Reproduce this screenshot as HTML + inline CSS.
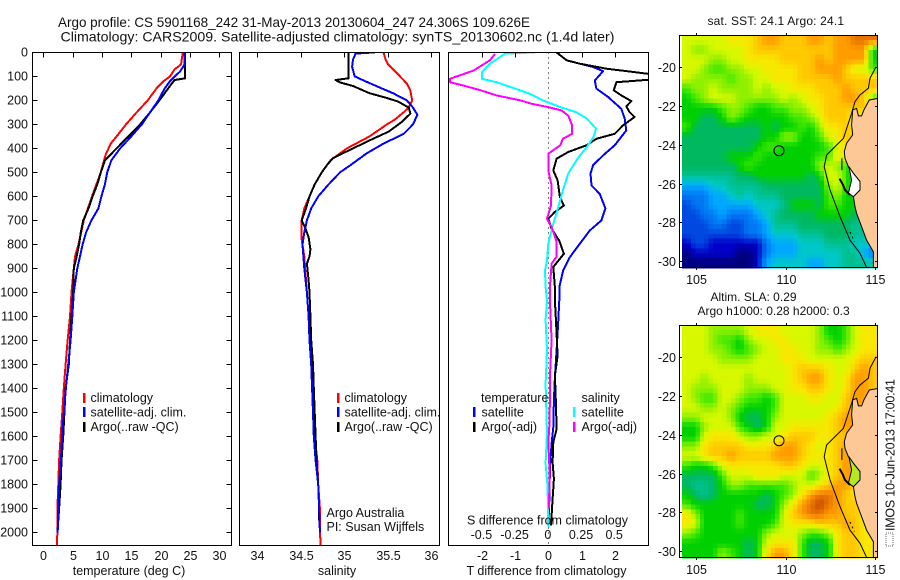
<!DOCTYPE html>
<html>
<head>
<meta charset="utf-8">
<title>Argo profile</title>
<style>
html,body{margin:0;padding:0;background:#fff;}
svg{display:block;}
text{font-family:"Liberation Sans",sans-serif;font-size:12.5px;fill:#111;}
.frame{fill:none;stroke:#000;stroke-width:1;shape-rendering:crispEdges;}
.tick{stroke:#000;stroke-width:1;shape-rendering:crispEdges;}
.prof{fill:none;stroke-width:2;stroke-linejoin:round;shape-rendering:crispEdges;}
</style>
</head>
<body>
<svg id="chart" xmlns="http://www.w3.org/2000/svg" width="900" height="580" viewBox="0 0 900 580">
<defs>
<clipPath id="clip-t"><rect x="32.5" y="52.5" width="199" height="493"/></clipPath>
<clipPath id="clip-s"><rect x="239.5" y="52.5" width="200" height="493"/></clipPath>
<clipPath id="clip-d"><rect x="448.5" y="52.5" width="200" height="493"/></clipPath>
<clipPath id="clip-m1"><rect x="679.5" y="35.5" width="198" height="232"/></clipPath>
<clipPath id="clip-m2"><rect x="679.5" y="325.5" width="198" height="232"/></clipPath>
</defs>
<text x="58" y="27" font-size="14" style="font-size:14px" textLength="472" lengthAdjust="spacingAndGlyphs">Argo profile: CS 5901168_242 31-May-2013 20130604_247 24.306S 109.626E</text>
<text x="60.5" y="41.5" style="font-size:14px" textLength="554" lengthAdjust="spacingAndGlyphs">Climatology: CARS2009. Satellite-adjusted climatology: synTS_20130602.nc (1.4d later)</text>

<g id="p1"></g>
<g id="p2"></g>
<g id="p3"></g>
<g id="m1"></g>
<g id="m2"></g>

<text x="129" y="575" text-anchor="middle">temperature (deg C)</text>
<text x="337" y="575" text-anchor="middle">salinity</text>
<text x="546.5" y="575" text-anchor="middle">T difference from climatology</text>
<text x="547.5" y="524.5" text-anchor="middle">S difference from climatology</text>

<g>
<rect x="83" y="393" width="2.5" height="10" fill="#f00"/>
<rect x="83" y="407" width="2.5" height="10" fill="#00f"/>
<rect x="83" y="422" width="2.5" height="10" fill="#000"/>
<text x="90.5" y="402">climatology</text>
<text x="90.5" y="416.5">satellite-adj. clim.</text>
<text x="90.5" y="431">Argo(..raw -QC)</text>
</g>
<g>
<rect x="337" y="393" width="2.5" height="10" fill="#f00"/>
<rect x="337" y="407" width="2.5" height="10" fill="#00f"/>
<rect x="337" y="422" width="2.5" height="10" fill="#000"/>
<text x="344.5" y="402">climatology</text>
<text x="344.5" y="416.5">satellite-adj. clim.</text>
<text x="344.5" y="431">Argo(..raw -QC)</text>
<text x="326.5" y="517">Argo Australia</text>
<text x="326.5" y="531">PI: Susan Wijffels</text>
</g>
<g>
<text x="481" y="402">temperature</text>
<rect x="473" y="407" width="2.5" height="10" fill="#00f"/>
<rect x="473" y="422" width="2.5" height="10" fill="#000"/>
<text x="481.5" y="416.5">satellite</text>
<text x="481.5" y="431">Argo(-adj)</text>
<text x="581.5" y="402">salinity</text>
<rect x="573" y="407" width="2.5" height="10" fill="#0ff"/>
<rect x="573" y="422" width="2.5" height="10" fill="#f0f"/>
<text x="581.5" y="416.5">satellite</text>
<text x="581.5" y="431">Argo(-adj)</text>
</g>

<text x="707.5" y="25" textLength="136.5" lengthAdjust="spacing" style="font-size:12px">sat. SST: 24.1  Argo: 24.1</text>
<text x="710.5" y="301" style="font-size:12px">Altim. SLA: 0.29</text>
<text x="697.5" y="315" style="font-size:12px">Argo h1000: 0.28 h2000: 0.3</text>
<rect x="886" y="533" width="7" height="13" fill="#fff" stroke="#666" stroke-width="1" stroke-dasharray="1 1"/>
<text transform="translate(894.5,531) rotate(-90)" textLength="152" lengthAdjust="spacing">IMOS 10-Jun-2013 17:00:41</text>
</svg>

<script>
/* ---------- profile data ---------- */
const depthTicks = [0,100,200,300,400,500,600,700,800,900,1000,1100,1200,1300,1400,1500,1600,1700,1800,1900,2000];
const tempTicks = [0,5,10,15,20,25,30];
const salTicks = [34,34.5,35,35.5,36];
const salTickLabels = ['34','34.5','35','35.5','36'];
const tDiffTicks = [-2,-1,0,1,2];
const sDiffTicks = [-0.5,-0.25,0,0.25,0.5];
const sDiffTickLabels = ['-0.5','-0.25','0','0.25','0.5'];

const tempClimDepth = [0,30,50,70,100,120,150,200,250,300,350,380,428,500,600,700,800,850,900,1000,1100,1200,1300,1400,1500,1600,1700,1800,1900,2000,2056];
const tempClim = [23.8,23.6,23.5,22.4,21.6,20.5,19.3,17.8,15.9,14.1,12.5,11.5,10.6,9.8,8.3,6.9,6,5.4,5.2,4.8,4.55,4.15,3.8,3.5,3.24,2.95,2.7,2.55,2.4,2.4,2.3];
const tempSatDepth = [0,50,80,100,120,150,200,250,300,350,400,450,500,550,600,650,700,750,800,850,900,1000,1100,1200,1300,1400,1500,1600,1700,1800,1900,2000];
const tempSat = [24.1,24.1,23.3,22.4,21.6,20.7,19.6,18.2,16.8,15,13.1,11.6,10.9,10.5,9.9,9.4,8.2,7.3,6.7,6.25,5.8,5.2,4.95,4.65,4.25,3.85,3.5,3.2,3,2.7,2.55,2.45];
const tempArgoDepth = [0,108,115,130,150,200,250,300,350,400,450,500,550,600,650,700,750,800,850,900,1000,1100,1200,1300,1400,1500,1600,1700,1800,1900,2000];
const tempArgo = [24.2,24.2,22.4,21.9,21.3,19.8,18.2,16.5,14.5,12.5,10.5,9.8,9.2,8.4,7.7,6.8,6.4,6.1,5.7,5.2,5.1,4.8,4.55,4.35,3.8,3.6,3.4,3.1,2.95,2.7,2.4];

const salClimDepth = [0,30,50,70,100,130,160,200,230,250,280,300,350,400,450,500,550,600,650,700,750,780,850,900,1000,1100,1200,1300,1400,1500,1600,1700,1800,1900,2000,2056];
const salClim = [35.45,35.475,35.505,35.56,35.64,35.72,35.76,35.78,35.74,35.68,35.58,35.49,35.29,35.03,34.84,34.74,34.66,34.6,34.54,34.51,34.51,34.51,34.54,34.55,34.57,34.59,34.6,34.62,34.64,34.65,34.66,34.69,34.7,34.72,34.72,34.73];
const salSatDepth = [0,5,30,60,100,120,150,170,200,230,260,300,340,380,420,470,500,550,600,650,700,750,800,850,900,1000,1100,1200,1300,1400,1500,1600,1700,1800,1900,2000];
const salSat = [35.35,35.13,35.1,35.09,35.12,35.24,35.43,35.56,35.72,35.79,35.84,35.79,35.68,35.45,35.26,35.07,34.95,34.82,34.7,34.62,34.57,34.54,34.52,34.53,34.54,34.57,34.59,34.6,34.62,34.63,34.64,34.65,34.67,34.7,34.71,34.72];
const salArgoDepth = [0,108,115,125,140,170,190,205,230,255,290,330,360,400,440,470,500,550,600,650,700,730,770,820,850,880,950,1000,1100,1200,1300,1400,1500,1600,1700,1800,1900,1950];
const salArgo = [35.05,35.05,34.9,34.95,35.1,35.29,35.49,35.62,35.74,35.76,35.66,35.51,35.33,35.1,34.87,34.8,34.74,34.66,34.6,34.56,34.51,34.55,34.59,34.61,34.6,34.57,34.59,34.6,34.61,34.62,34.64,34.65,34.66,34.67,34.68,34.7,34.71,34.71];

const dTempSatDepth = [0,33,47,61,78,117,151,186,235,276,325,387,429,470,505,554,590,650,700,742,797,853,908,978,1033,1116,1241,1353,1450,1561,1630,1727,1866,1977];
const dTempSat = [0.25,0.55,0.95,1.35,1.65,1.4,1.45,1.8,2.2,2.3,2.35,2,1.65,1.35,1.27,1.3,1.55,1.72,1.6,1.25,0.95,0.65,0.45,0.33,0.33,0.3,0.25,0.2,0.17,0.15,0.1,0.05,0.03,0];
const dTempArgoDepth = [0,33,47,68,78,89,100,114,124,158,179,203,225,249,269,304,339,360,387,415,443,492,533,603,638,665,693,735,785,839,894,978,1033,1172,1264,1347,1458,1569,1625,1708,1777,1861,1972];
const dTempArgo = [0.25,0.55,0.95,1.75,2.35,3,3.5,3,2.05,1.97,2.2,2.5,2.35,2.45,2.6,2.25,2,1.45,1.15,0.6,0.25,0.15,0.28,0.35,0.47,0.2,0,0.1,0.33,0.47,0.15,0.2,0.2,0.25,0.28,0.2,0.23,0.25,0.15,0.13,0.17,0.13,0.08];
const dSalSatDepth = [0,5,47,82,110,124,151,172,200,228,249,276,318,353,394,443,505,575,644,728,797,867,908,978,1033,1116,1241,1380,1588,1713,1810,1977];
const dSalSat = [-0.1,-0.325,-0.44,-0.5,-0.5,-0.39,-0.25,-0.14,-0.04,0.09,0.21,0.29,0.36,0.34,0.29,0.22,0.15,0.11,0.075,0.03,0,-0.01,-0.025,-0.02,-0.01,-0.02,-0.01,-0.02,-0.01,-0.02,-0.005,0];
const dSalArgoDepth = [6,33,75,110,124,138,158,179,200,214,228,242,263,304,339,360,387,422,492,554,638,693,728,785,853,880,978,1033,1200,1350,1450,1550,1630,1720,1800,1900];
const dSalArgo = [-0.4,-0.44,-0.56,-0.74,-0.74,-0.64,-0.51,-0.39,-0.21,-0.125,0,0.1,0.15,0.18,0.18,0.11,0.09,0,0,0.025,0.02,-0.01,0.025,0.06,0.06,0.025,0.012,0.012,0.025,0.012,0.012,0.008,0,0.008,0.008,0.005];

/* ---------- map data (colour level per half-degree cell) ---------- */
const lonTicks = [105,110,115];
const latTicks = [-20,-22,-24,-26,-28,-30];
const sstGrid = [
[11,11,11,11,11,12,12,12,13,14,14,13,13,13,14,14,13,14,14,15,15,15],
[11,10,10,11,11,11,11,12,13,13,13,13,13,13,13,13,13,14,14,14,14,8],
[11,11,11,10,10,11,11,12,12,12,12,13,13,13,13,14,13,14,14,14,14,8],
[11,11,10,9,9,10,10,11,11,12,12,12,12,13,13,14,14,14,13,11,11,9],
[11,10,10,10,10,9,10,10,11,11,12,12,12,13,13,13,13,14,13,13,13,13],
[9,10,10,11,10,10,10,10,11,10,11,11,12,12,12,13,13,13,14,13,13,13],
[8,9,10,11,11,11,10,10,10,10,10,11,10,11,12,12,13,13,14,14,13,9],
[8,8,8,8,9,10,10,9,8,8,9,9,10,10,11,12,13,13,13,13,13,13],
[8,8,7,7,8,10,9,8,8,8,8,8,9,9,10,11,13,13,13,11,11,11],
[9,7,7,7,7,7,7,7,7,8,7,8,8,9,8,10,12,12,13,12,12,12],
[7,7,7,7,7,7,7,7,7,8,8,10,10,8,8,9,11,12,13,13,13,13],
[7,7,7,7,7,7,7,7,8,9,9,8,8,8,8,8,9,11,12,13,13,13],
[7,7,7,7,7,8,8,8,9,8,8,8,8,8,8,9,9,12,11,12,12,12],
[7,7,7,7,7,7,8,9,8,8,8,8,8,8,8,10,11,10,9,8,8,8],
[6,6,6,6,6,6,7,7,8,8,8,8,8,8,7,8,11,11,9,6,6,6],
[4,4,4,5,5,6,6,6,6,7,7,7,7,7,7,7,10,11,9,7,7,7],
[3,3,3,4,4,5,6,5,6,6,6,7,7,7,7,7,9,10,8,8,8,8],
[2,3,3,4,4,4,4,4,5,5,5,6,8,8,8,7,9,9,8,8,8,8],
[2,2,3,3,4,3,3,3,4,5,6,7,7,7,7,8,8,8,8,7,7,7],
[2,2,2,3,3,2,2,3,3,4,6,6,6,7,7,7,7,7,7,6,6,6],
[2,2,2,2,2,2,2,3,3,4,5,5,5,6,6,6,7,7,7,6,6,6],
[1,2,2,1,1,1,1,1,1,3,4,4,4,5,5,5,6,6,6,5,5,5],
[0,1,1,1,1,1,0,0,1,3,4,4,4,5,5,5,5,5,6,6,4,3],
[0,0,0,0,0,0,0,0,1,4,5,5,5,5,4,4,5,5,6,6,6,5]
];
const slaGrid = [
[11,11,11,10,10,10,10,11,12,12,12,11,11,11,11,10,8,8,9,11,12,12],
[11,11,11,10,9,9,8,10,11,11,12,12,11,11,11,10,9,8,9,11,12,12],
[11,11,11,10,10,9,8,9,10,11,11,12,12,11,11,10,10,9,10,11,12,12],
[11,11,11,11,10,10,10,10,11,11,11,12,12,12,11,11,11,11,11,12,13,13],
[11,11,11,11,11,11,11,11,11,11,11,11,12,13,13,13,12,11,11,13,14,13],
[11,11,10,11,11,11,11,10,11,11,11,11,12,13,14,14,12,11,12,14,14,13],
[11,10,10,10,11,11,11,10,10,10,11,11,12,12,13,13,12,11,12,14,14,13],
[11,10,9,9,11,11,10,9,9,8,9,11,11,11,12,12,11,11,13,14,14,13],
[11,11,10,10,11,10,9,8,8,8,9,11,11,11,11,11,11,12,13,14,13,13],
[10,10,11,11,11,10,8,7,7,8,10,11,11,11,11,11,12,13,14,14,13,13],
[8,8,10,11,11,11,9,8,7,8,11,11,12,12,12,12,12,13,14,14,13,13],
[8,8,11,12,12,12,11,10,10,11,11,12,13,13,13,12,12,13,13,13,13,13],
[10,10,12,13,13,13,13,12,12,12,13,14,14,13,12,11,12,13,14,13,13,13],
[11,11,12,13,13,14,13,13,13,13,14,14,14,13,12,12,12,13,14,13,13,13],
[9,8,8,9,11,12,12,12,12,12,12,13,13,12,11,11,12,13,14,14,13,13],
[7,7,7,7,9,11,11,11,12,12,12,11,11,11,9,10,12,13,14,14,13,13],
[7,6,6,7,8,10,10,9,9,9,9,9,10,11,11,12,13,14,14,13,13,13],
[8,7,6,7,8,8,8,8,8,7,8,9,10,12,14,15,15,14,13,12,12,12],
[9,8,8,8,8,8,8,8,7,7,8,10,12,14,15,16,15,14,13,13,12,12],
[12,10,8,8,8,8,9,8,8,8,8,11,13,14,15,15,14,14,13,13,12,12],
[12,11,8,8,8,8,9,8,8,8,9,11,12,12,12,13,13,13,14,13,12,12],
[10,9,8,8,8,8,8,8,8,10,11,11,11,10,9,9,10,12,13,13,12,12],
[8,8,8,8,8,8,8,7,8,11,12,12,12,9,7,7,8,12,13,13,12,12],
[8,8,8,8,10,9,8,7,8,12,14,14,12,9,7,7,8,12,13,13,12,12]
];
const landLon = [115.2,114.68,114.38,114.25,114.07,113.97,113.75,113.69,113.75,113.41,113.28,113.32,113.51,113.79,114.16,114.16,113.79,113.88,113.97,114.25,114.53,114.91,114.91,115.2];
const landLat = [-21.6,-21.69,-22.2,-22.51,-22.51,-22.12,-22.2,-22.98,-23.49,-23.92,-24.35,-24.7,-25.13,-25.47,-25.9,-26.33,-26.68,-27.19,-27.54,-28.23,-28.92,-29.52,-30.4,-30.4];
const shelfLon = [115.06,114.72,114.63,114.16,113.88,113.69,113.23,112.29,112.16,112.48,113.04,113.6,114.16,114.53];
const shelfLat = [-19.97,-20.57,-21.08,-21.43,-21.77,-22.38,-23.67,-24.53,-25.13,-26.33,-27.71,-28.92,-29.6,-30.33];
const bayLon = [113.54,113.79,114.16,114.16,113.79,113.51,113.69];
const bayLat = [-25.13,-25.47,-25.9,-26.33,-26.68,-26.5,-25.82];
const islandLon = [113.02,113.2,113.32,113.6];
const islandLat = [-25.75,-26.05,-26.33,-26.59];
const reefNorthLon = [113.15,113.15];
const reefNorthLat = [-24.7,-25.3];
const reefSouthLon = [113.6,113.75,113.85];
const reefSouthLat = [-28.5,-28.8,-29];
const argoLon = 109.626;
const argoLat = -24.306;
const levelColors = ['#00007c','#0000c8','#0048e0','#0078f4','#00a8ff','#00c8c8','#00c090','#00b860','#00d000','#40e800','#90f000','#d8f800','#f8e800','#ffc800','#ff9c00','#e87400','#c84400'];

/* ---------- helpers ---------- */
const NS = 'http://www.w3.org/2000/svg';
function mk(parent, tag, name) {
  const el = document.createElementNS(NS, tag);
  
  
  parent.appendChild(el);
  return el;
}
function line(parent, name, x1, y1, x2, y2) {
  const el = mk(parent, 'line', name);
  el.setAttribute('x1', x1);
  el.setAttribute('y1', y1);
  el.setAttribute('x2', x2);
  el.setAttribute('y2', y2);
  el.setAttribute('class', 'tick');
  return el;
}
function label(parent, name, x, y, str, anchor) {
  const el = mk(parent, 'text', name);
  el.setAttribute('x', x);
  el.setAttribute('y', y);
  el.setAttribute('text-anchor', anchor || 'middle');
  el.textContent = str;
  return el;
}
function frame(parent, name, x, y, w, h) {
  const el = mk(parent, 'rect', name);
  el.setAttribute('x', x);
  el.setAttribute('y', y);
  el.setAttribute('width', w);
  el.setAttribute('height', h);
  el.setAttribute('class', 'frame');
  return el;
}
function profile(parent, name, depths, vals, xf, color, clip) {
  const el = mk(parent, 'polyline', name);
  el.setAttribute('points', depths.map(function (d, i) { return xf(vals[i]).toFixed(1) + ',' + yDepth(d).toFixed(1); }).join(' '));
  el.setAttribute('class', 'prof');
  el.setAttribute('stroke', color);
  el.setAttribute('clip-path', 'url(#' + clip + ')');
  return el;
}
function yDepth(d) { return 52.4 + 0.24 * d; }
function xTemp(t) { return 43.3 + 5.865 * t; }
function xSal(s) { return 257.3 + 87 * (s - 34); }
function xDT(t) { return 548.3 + 33.2 * t; }
function xDS(s) { return 548.3 + 132.8 * s; }

/* ---------- temperature panel ---------- */
const p1 = document.getElementById('p1');
profile(p1, 'temperature-climatology-line', tempClimDepth, tempClim, xTemp, '#f00', 'clip-t');
profile(p1, 'temperature-argo-line', tempArgoDepth, tempArgo, xTemp, '#000', 'clip-t');
profile(p1, 'temperature-satellite-line', tempSatDepth, tempSat, xTemp, '#00f', 'clip-t');
frame(p1, 'temperature-plot-frame', 32.5, 52.5, 199, 493);
depthTicks.forEach(function (d) {
  const y = Math.round(yDepth(d)) + 0.5;
  line(p1, 'depth-tick-left', 32.5, y, 37.5, y);
  line(p1, 'depth-tick-right', 226.5, y, 231.5, y);
  label(p1, 'depth-tick-label', 28, y + 4, String(d), 'end');
});
tempTicks.forEach(function (t) {
  const x = Math.round(xTemp(t)) + 0.5;
  line(p1, 'temperature-tick', x, 52.5, x, 57.5);
  label(p1, 'temperature-tick-label', x, 560, String(t));
});

/* ---------- salinity panel ---------- */
const p2 = document.getElementById('p2');
profile(p2, 'salinity-climatology-line', salClimDepth, salClim, xSal, '#f00', 'clip-s');
profile(p2, 'salinity-argo-line', salArgoDepth, salArgo, xSal, '#000', 'clip-s');
profile(p2, 'salinity-satellite-line', salSatDepth, salSat, xSal, '#00f', 'clip-s');
frame(p2, 'salinity-plot-frame', 239.5, 52.5, 200, 493);
salTicks.forEach(function (s, i) {
  const x = Math.round(xSal(s)) + 0.5;
  line(p2, 'salinity-tick', x, 52.5, x, 57.5);
  label(p2, 'salinity-tick-label', x, 560, salTickLabels[i]);
});

/* ---------- difference panel ---------- */
const p3 = document.getElementById('p3');
const zeroLine = line(p3, 'zero-difference-line', 548.5, 52.5, 548.5, 545.5);
zeroLine.setAttribute('stroke-dasharray', '1 4');
profile(p3, 'satellite-t-difference-line', dTempSatDepth, dTempSat, xDT, '#00f', 'clip-d');
profile(p3, 'argo-t-difference-line', dTempArgoDepth, dTempArgo, xDT, '#000', 'clip-d');
profile(p3, 'satellite-s-difference-line', dSalSatDepth, dSalSat, xDS, '#0ff', 'clip-d');
profile(p3, 'argo-s-difference-line', dSalArgoDepth, dSalArgo, xDS, '#f0f', 'clip-d');
frame(p3, 'difference-plot-frame', 448.5, 52.5, 200, 493);
tDiffTicks.forEach(function (t) {
  const x = Math.round(xDT(t)) + 0.5;
  if (t !== 0) line(p3, 't-difference-tick', x, 52.5, x, 57.5);
  label(p3, 't-difference-tick-label', x, 560, String(t));
});
sDiffTicks.forEach(function (s, i) {
  label(p3, 's-difference-tick-label', xDS(s) - 0.5, 539, sDiffTickLabels[i]);
});

/* ---------- maps ---------- */
function levelColor(v) {
  const top = levelColors.length - 1;
  const c = Math.max(0, Math.min(top, v));
  const i = Math.min(top - 1, Math.floor(c));
  const f = c - i;
  const a = levelColors[i];
  const b = levelColors[i + 1];
  let out = '#';
  [1, 3, 5].forEach(function (k) {
    const ca = parseInt(a.substr(k, 2), 16);
    const cb = parseInt(b.substr(k, 2), 16);
    const m = Math.round(ca + (cb - ca) * f);
    out += (m < 16 ? '0' : '') + m.toString(16);
  });
  return out;
}
function drawMap(g, grid, top, prefix, subdiv, bayFill, clip) {
  const bottom = top + 232;
  const xLon = function (lon) { return 696.3 + 17.87 * (lon - 105); };
  const yLat = function (lat) { return top + 32.3 + 19.37 * (-20 - lat); };
  const pts = function (lons, lats) {
    return lons.map(function (lon, i) { return xLon(lon).toFixed(1) + ',' + yLat(lats[i]).toFixed(1); }).join(' ');
  };
  const rows = grid.length;
  const cols = grid[0].length;
  const x0 = 682;
  const cw = (877.3 - x0) / cols;
  const ch = 232.5 / rows;
  const cells = mk(g, 'g', prefix + '-heatmap');
  cells.setAttribute('shape-rendering', 'crispEdges');
  const at = function (r, c) {
    const rr = Math.max(0, Math.min(rows - 1, r));
    const cc = Math.max(0, Math.min(cols - 1, c));
    return grid[rr][cc];
  };
  for (let r = 0; r < rows * subdiv; r++) {
    for (let c = 0; c < cols * subdiv; c++) {
      const fr = (r + 0.5) / subdiv - 0.5;
      const fc = (c + 0.5) / subdiv - 0.5;
      const r0 = Math.floor(fr);
      const c0 = Math.floor(fc);
      const tr = fr - r0;
      const tc = fc - c0;
      const v = (at(r0, c0) * (1 - tc) + at(r0, c0 + 1) * tc) * (1 - tr) + (at(r0 + 1, c0) * (1 - tc) + at(r0 + 1, c0 + 1) * tc) * tr;
      const cell = mk(cells, 'rect', prefix + '-cell');
      cell.setAttribute('x', (x0 + c * cw / subdiv).toFixed(2));
      cell.setAttribute('y', (top + 0.3 + r * ch / subdiv).toFixed(2));
      cell.setAttribute('width', (cw / subdiv + 0.6).toFixed(2));
      cell.setAttribute('height', (ch / subdiv + 0.6).toFixed(2));
      cell.setAttribute('fill', levelColor(v));
    }
  }
  const land = mk(g, 'polygon', prefix + '-land');
  land.setAttribute('points', pts(landLon, landLat));
  land.setAttribute('fill', '#fdc896');
  land.setAttribute('stroke', '#000');
  land.setAttribute('stroke-width', '1');
  land.setAttribute('clip-path', 'url(#' + clip + ')');
  const bay = mk(g, 'polygon', prefix + '-shark-bay');
  bay.setAttribute('points', pts(bayLon, bayLat));
  bay.setAttribute('fill', bayFill);
  bay.setAttribute('stroke', '#000');
  bay.setAttribute('stroke-width', '1');
  const island = mk(g, 'polyline', prefix + '-dirk-hartog-island');
  island.setAttribute('points', pts(islandLon, islandLat));
  island.setAttribute('fill', 'none');
  island.setAttribute('stroke', '#000');
  island.setAttribute('stroke-width', '2');
  const reefNorth = mk(g, 'polyline', prefix + '-north-reef');
  reefNorth.setAttribute('points', pts(reefNorthLon, reefNorthLat));
  reefNorth.setAttribute('fill', 'none');
  reefNorth.setAttribute('stroke', '#000');
  reefNorth.setAttribute('stroke-width', '1');
  const reefSouth = mk(g, 'polyline', prefix + '-abrolhos-islands');
  reefSouth.setAttribute('points', pts(reefSouthLon, reefSouthLat));
  reefSouth.setAttribute('fill', 'none');
  reefSouth.setAttribute('stroke', '#000');
  reefSouth.setAttribute('stroke-width', '1');
  reefSouth.setAttribute('stroke-dasharray', '2 3');
  const shelf = mk(g, 'polyline', prefix + '-shelf-contour');
  shelf.setAttribute('points', pts(shelfLon, shelfLat));
  shelf.setAttribute('fill', 'none');
  shelf.setAttribute('stroke', '#000');
  shelf.setAttribute('stroke-width', '1');
  shelf.setAttribute('clip-path', 'url(#' + clip + ')');
  const marker = mk(g, 'circle', prefix + '-argo-position');
  marker.setAttribute('cx', xLon(argoLon).toFixed(1));
  marker.setAttribute('cy', yLat(argoLat).toFixed(1));
  marker.setAttribute('r', '5');
  marker.setAttribute('fill', 'none');
  marker.setAttribute('stroke', '#000');
  marker.setAttribute('stroke-width', '1');
  frame(g, prefix + '-frame', 679.5, top + 0.5, 198, 232);
  lonTicks.forEach(function (lon) {
    const x = Math.round(xLon(lon)) + 0.5;
    line(g, prefix + '-lon-tick-top', x, top - 2, x, top + 0.5);
    line(g, prefix + '-lon-tick-bottom', x, bottom + 0.5, x, bottom + 3);
    label(g, prefix + '-lon-tick-label', x, bottom + 17, String(lon));
  });
  latTicks.forEach(function (lat) {
    const y = Math.round(yLat(lat)) + 0.5;
    line(g, prefix + '-lat-tick-left', 679.5, y, 682, y);
    line(g, prefix + '-lat-tick-right', 875, y, 877.5, y);
    label(g, prefix + '-lat-tick-label', 676, y + 4.5, String(lat), 'end');
  });
}
drawMap(document.getElementById('m1'), sstGrid, 35, 'sst-map', 2, '#ffffff', 'clip-m1');
drawMap(document.getElementById('m2'), slaGrid, 325, 'sla-map', 2, '#b4e820', 'clip-m2');
</script>
</body>
</html>
